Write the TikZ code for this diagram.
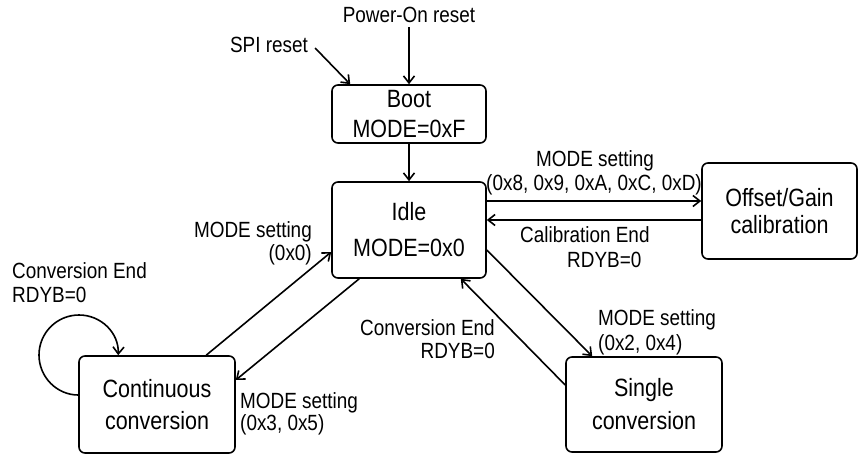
\documentclass[tikz,border=0pt]{standalone}
\usepackage{fontspec}
\setmainfont{Liberation Sans}[FakeStretch=0.86]
\usetikzlibrary{arrows.meta}
\begin{document}
\begin{tikzpicture}[x=1pt,y=-1pt,
  state/.style={draw, line width=1.6pt, rounded corners=6pt, align=center, inner sep=0pt},
  lbl/.style={inner sep=0pt, font=\fontsize{22}{25}\selectfont},
  arr/.style={line width=1.6pt, -{Straight Barb[length=7pt,width=11pt]}}]
\useasboundingbox (0,0) rectangle (866,457);

% states
\node[state, minimum width=154pt, minimum height=58pt, font=\fontsize{25}{30}\selectfont] (boot) at (409,114) {Boot\\MODE=0xF};
\node[state, minimum width=154pt, minimum height=96pt, font=\fontsize{25}{36}\selectfont] (idle) at (409,230) {Idle\\MODE=0x0};
\node[state, minimum width=155pt, minimum height=96pt, font=\fontsize{25}{27}\selectfont] (cal) at (779.5,211) {Offset/Gain\\calibration};
\node[state, minimum width=156pt, minimum height=97pt, font=\fontsize{25}{32}\selectfont] (cont) at (157,404.5) {Continuous\\conversion};
\node[state, minimum width=156pt, minimum height=95pt, font=\fontsize{25}{33}\selectfont] (single) at (644,404.5) {Single\\conversion};

% labels
\node[lbl, anchor=base] (pwr) at (409,23) {Power-On reset};
\node[lbl, anchor=base] (spi) at (269,53) {SPI reset};

\node[lbl, anchor=base] (l1a) at (595,167) {MODE setting};
\node[lbl, anchor=base] (l1b) at (594,190) {(0x8, 0x9, 0xA, 0xC, 0xD)};

\node[lbl, anchor=base west] (l2a) at (520,242) {Calibration End};
\node[lbl, anchor=base west] (l2b) at (567,267) {RDYB=0};

\node[lbl, anchor=base east] (l3a) at (312,237) {MODE setting};
\node[lbl, anchor=base east] (l3b) at (312,260) {(0x0)};

\node[lbl, anchor=base west] (l4a) at (12,278) {Conversion End};
\node[lbl, anchor=base west] (l4b) at (12,302) {RDYB=0};

\node[lbl, anchor=base west] (l5a) at (240,408) {MODE setting};
\node[lbl, anchor=base west] (l5b) at (240,430) {(0x3, 0x5)};

\node[lbl, anchor=base east] (l6a) at (495,335) {Conversion End};
\node[lbl, anchor=base east] (l6b) at (495,358) {RDYB=0};

\node[lbl, anchor=base west] (l7a) at (598,325) {MODE setting};
\node[lbl, anchor=base west] (l7b) at (598,350) {(0x2, 0x4)};

% connectors
\draw[arr] ([yshift=-4pt]pwr.south) -- (boot.north);
\draw[arr] ([xshift=7pt,yshift=-2.6pt]spi.east) -- ([xshift=19pt]boot.north west);
\draw[arr] (boot.south) -- (idle.north);
\draw[arr] ([yshift=29pt]idle.east) -- ([yshift=10pt]cal.west);
\draw[arr] ([yshift=-9pt]cal.west) -- ([yshift=10pt]idle.east);
\draw[arr] ([xshift=128pt]cont.north west) -- ([yshift=-22pt]idle.west);
\draw[arr] ([xshift=28pt]idle.south west) -- ([yshift=24.5pt]cont.east);
\draw[arr] ([yshift=-20pt]idle.east) -- ([xshift=27pt]single.north west);
\draw[arr] ([yshift=19.5pt]single.west) -- ([xshift=-26pt]idle.south east);
\draw[arr] ([yshift=9.5pt]cont.west) .. controls (56.9,395) and (39,377.1) .. (39,355)
  .. controls (39,332.9) and (56.9,315) .. (79,315)
  .. controls (101.1,315) and (119,332.9) .. ([xshift=40pt]cont.north west);
\end{tikzpicture}
\end{document}
